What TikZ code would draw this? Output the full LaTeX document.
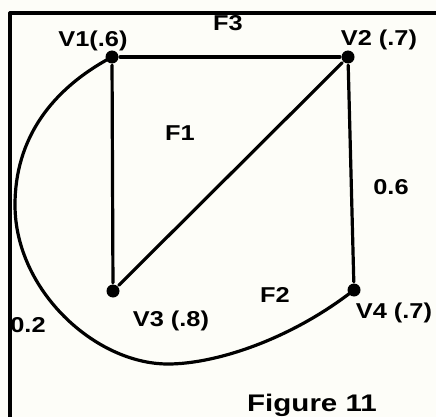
\documentclass[tikz,border=0pt]{standalone}
\usepackage{fontspec}
\setmainfont{Liberation Sans}
\definecolor{paper}{HTML}{FDFDF8}
\begin{document}
\begin{tikzpicture}[x=1pt,y=-1pt,line width=3.2pt,line cap=round,line join=round,
  vtx/.style={circle,fill,inner sep=0pt,minimum size=13pt},
  lbl/.style={font=\bfseries\fontsize{21.5}{24}\selectfont,xscale=1.18,inner sep=0pt,anchor=base},
  figtitle/.style={font=\bfseries\fontsize{24}{26}\selectfont,xscale=1.23,inner sep=0pt,anchor=base}]
  \fill[paper] (0,0) rectangle (436,417);
  \useasboundingbox (0,0) rectangle (436,417);
  % frame, cut on the right and at the bottom
  \draw[line width=3.2pt,line cap=butt] (10,417)--(10,13)--(436,13);
  % vertices
  \node[vtx] (v1) at (112,57) {};
  \node[vtx] (v2) at (348,57) {};
  \node[vtx] (v3) at (113,291) {};
  \node[vtx] (v4) at (354,290) {};
  \coordinate (left) at (15,205);
  \coordinate (low) at (168,364);
  % edges
  \draw (v1)--(v2);
  \draw (v1)--(v3);
  \draw (v2)--(v3);
  \draw (v2)--(v4);
  \draw (v1.center) .. controls (50,90) and (15,140) .. (left)
    .. controls (15,290) and (95,364) .. (low)
    .. controls (215,364) and (290,340) .. (v4.center);
  % labels
  \node[lbl] (lv1) at (93,47) {V1(.6)};
  \node[lbl] (lv2) at (379,46) {V2 (.7)};
  \node[lbl] (lv3) at (171,326) {V3 (.8)};
  \node[lbl] (lv4) at (394,318) {V4 (.7)};
  \node[lbl] (f1) at (180,140) {F1};
  \node[lbl] (f2) at (275,302) {F2};
  \node[lbl] (f3) at (228,31) {F3};
  \node[lbl] (w24) at (391,194) {0.6};
  \node[lbl] (w14) at (28,332) {0.2};
  \node[figtitle] (title) at (312,411) {Figure 11};
\end{tikzpicture}
\end{document}
